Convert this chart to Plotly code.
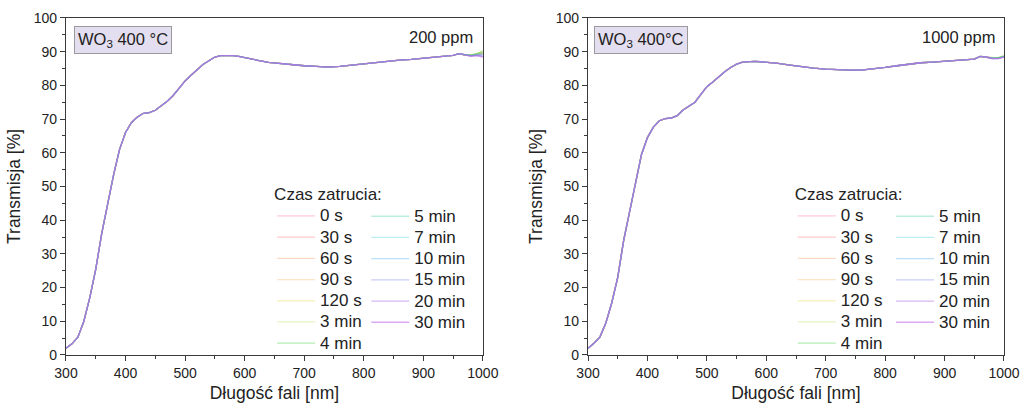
import plotly.graph_objects as go

# Wavelength grid (nm) shared by both panels, up to 970 nm
wavelength = [300, 310, 320, 330, 340, 350, 360, 370, 380, 390, 400, 410, 420, 430,
              440, 450, 460, 470, 480, 490, 500, 510, 520, 530, 540, 550, 560, 570,
              580, 590, 600, 620, 640, 660, 680, 700, 720, 740, 760, 780, 800, 820,
              840, 860, 880, 900, 920, 940, 950, 960, 970]

# Transmittance (%) common to all exposure times
t_200ppm = [2.0, 3.3, 5.3, 10.0, 17.0, 25.5, 36.0, 45.0, 53.5, 61.0, 66.0, 69.0, 70.6, 71.7,
            71.9, 72.6, 74.0, 75.3, 77.0, 79.3, 81.3, 83.0, 84.7, 86.2, 87.3, 88.4, 88.8, 88.9,
            88.8, 88.6, 88.3, 87.5, 86.8, 86.4, 86.1, 85.8, 85.6, 85.4, 85.6, 86.0, 86.5, 86.8,
            87.2, 87.5, 87.7, 88.0, 88.3, 88.6, 88.9, 89.4, 89.0]

t_1000ppm = [2.0, 3.5, 5.3, 9.5, 15.5, 23.0, 34.0, 42.5, 51.5, 59.5, 64.5, 67.6, 69.5, 70.1,
             70.3, 71.0, 72.7, 73.8, 75.0, 77.3, 79.6, 81.0, 82.6, 84.0, 85.3, 86.3, 86.9, 87.1,
             87.1, 87.0, 86.9, 86.5, 86.0, 85.5, 85.1, 84.8, 84.6, 84.5, 84.5, 84.8, 85.3, 85.8,
             86.3, 86.7, 86.9, 87.2, 87.3, 87.6, 87.8, 88.6, 88.4]

# Long-wavelength end, where the individual exposure times separate
tail_wavelength = [980, 990, 1000]

series_names = ["0 s", "30 s", "60 s", "90 s", "120 s", "3 min", "4 min",
                "5 min", "7 min", "10 min", "15 min", "20 min", "30 min"]

series_colors = ["rgba(255,100,170,0.35)", "rgba(255,100,100,0.35)", "rgba(255,150,80,0.35)",
                 "rgba(250,180,90,0.35)", "rgba(235,220,80,0.35)", "rgba(170,225,80,0.35)",
                 "rgba(40,200,40,0.35)", "rgba(60,200,160,0.35)", "rgba(60,205,210,0.35)",
                 "rgba(60,165,240,0.35)", "rgba(100,110,230,0.35)", "rgba(165,100,230,0.45)",
                 "rgba(195,115,235,0.6)"]

tail_200ppm = [[88.8, 89.0, 89.3], [88.8, 89.1, 89.4], [88.9, 89.2, 89.6], [88.9, 89.2, 89.7],
               [89.0, 89.3, 89.9], [89.0, 89.4, 90.1], [89.0, 89.4, 90.2], [88.9, 89.2, 89.6],
               [88.9, 89.1, 89.3], [88.8, 89.0, 89.0], [88.7, 88.9, 88.7], [88.7, 88.9, 88.5],
               [88.6, 88.8, 88.4]]

tail_1000ppm = [[88.0, 88.0, 88.6], [88.0, 88.0, 88.6], [88.0, 88.1, 88.6], [88.0, 88.1, 88.6],
                [88.1, 88.1, 88.7], [88.1, 88.2, 88.7], [88.1, 88.2, 88.7], [88.0, 88.1, 88.6],
                [88.0, 88.0, 88.5], [88.0, 88.0, 88.5], [87.9, 87.9, 88.4], [87.9, 87.9, 88.4],
                [87.9, 87.9, 88.4]]

panels = [
    dict(base=t_200ppm, tails=tail_200ppm, xa="x", ya="y", legends=("legend", "legend2")),
    dict(base=t_1000ppm, tails=tail_1000ppm, xa="x2", ya="y2", legends=("legend3", "legend4")),
]

fig = go.Figure()
for p in panels:
    for i, name in enumerate(series_names):
        fig.add_trace(go.Scatter(
            x=wavelength + tail_wavelength,
            y=p["base"] + p["tails"][i],
            mode="lines",
            line=dict(color=series_colors[i], width=1.3),
            name=f'<span style="font-size:17px">{name}</span>',
            xaxis=p["xa"], yaxis=p["ya"],
            legend=p["legends"][0] if i < 7 else p["legends"][1],
        ))

axis_line = "#3a3a3a"
family = "Liberation Sans, Arial, sans-serif"
tick_font = dict(family=family, size=14, color="#222")
title_font = dict(family=family, size=17.5, color="#222")


def x_axis(domain, anchor):
    return dict(domain=domain, anchor=anchor, range=[300, 1000], dtick=100, tick0=300,
                ticks="outside", ticklen=5, tickwidth=1.2, tickcolor=axis_line,
                minor=dict(dtick=50, ticks="outside", ticklen=3, tickcolor=axis_line),
                showline=True, mirror=True, linecolor=axis_line, linewidth=1.3,
                showgrid=False, zeroline=False, tickfont=tick_font, automargin=False,
                title=dict(text="Długość fali [nm]", font=title_font, standoff=6))


def y_axis(domain, anchor):
    return dict(domain=domain, anchor=anchor, range=[0, 100], dtick=10, tick0=0,
                ticks="outside", ticklen=5, tickwidth=1.2, tickcolor=axis_line,
                minor=dict(dtick=5, ticks="outside", ticklen=3, tickcolor=axis_line),
                showline=True, mirror=True, linecolor=axis_line, linewidth=1.3,
                showgrid=False, zeroline=False, tickfont=tick_font, automargin=False,
                title=dict(text="Transmisja [%]", font=title_font, standoff=8))


ydom = [0.1278, 0.956]
legend_font = dict(family=family, size=14, color="#222")
common_legend = dict(font=legend_font, bgcolor="rgba(0,0,0,0)", xanchor="left",
                     yanchor="top", tracegroupgap=0, itemwidth=38)

fig.update_layout(
    width=1023, height=407,
    margin=dict(l=0, r=0, t=0, b=0, autoexpand=False),
    paper_bgcolor="white", plot_bgcolor="white",
    font=dict(family=family, color="#222"),
    xaxis=x_axis([0.0645, 0.472], "y"),
    yaxis=y_axis(ydom, "x"),
    xaxis2=x_axis([0.5748, 0.9814], "y2"),
    yaxis2=y_axis(ydom, "x2"),
    legend=dict(common_legend, x=0.266, y=0.562,
                title=dict(text="Czas zatrucia:", font=dict(legend_font, size=17))),
    legend2=dict(common_legend, x=0.358, y=0.507),
    legend3=dict(common_legend, x=0.775, y=0.562,
                 title=dict(text="Czas zatrucia:", font=dict(legend_font, size=17))),
    legend4=dict(common_legend, x=0.871, y=0.507),
    showlegend=True,
)

box_style = dict(showarrow=False, xanchor="left", yanchor="top", bgcolor="#e4dff0",
                 bordercolor="#9a9a9a", borderwidth=1, borderpad=3,
                 font=dict(family=family, size=16.5, color="#222"))
conc_style = dict(showarrow=False, xanchor="right", yanchor="top",
                  font=dict(family=family, size=16.5, color="#222"))

fig.add_annotation(text="WO<sub>3</sub> 400 °C", xref="x domain", yref="y domain",
                   x=0.019, y=0.975, **box_style)
fig.add_annotation(text="200 ppm", xref="x domain", yref="y domain",
                   x=0.981, y=0.975, **conc_style)
fig.add_annotation(text="WO<sub>3</sub> 400°C", xref="x2 domain", yref="y2 domain",
                   x=0.0144, y=0.975, **box_style)
fig.add_annotation(text="1000 ppm", xref="x2 domain", yref="y2 domain",
                   x=0.983, y=0.975, **conc_style)

fig.write_html("out.html")
